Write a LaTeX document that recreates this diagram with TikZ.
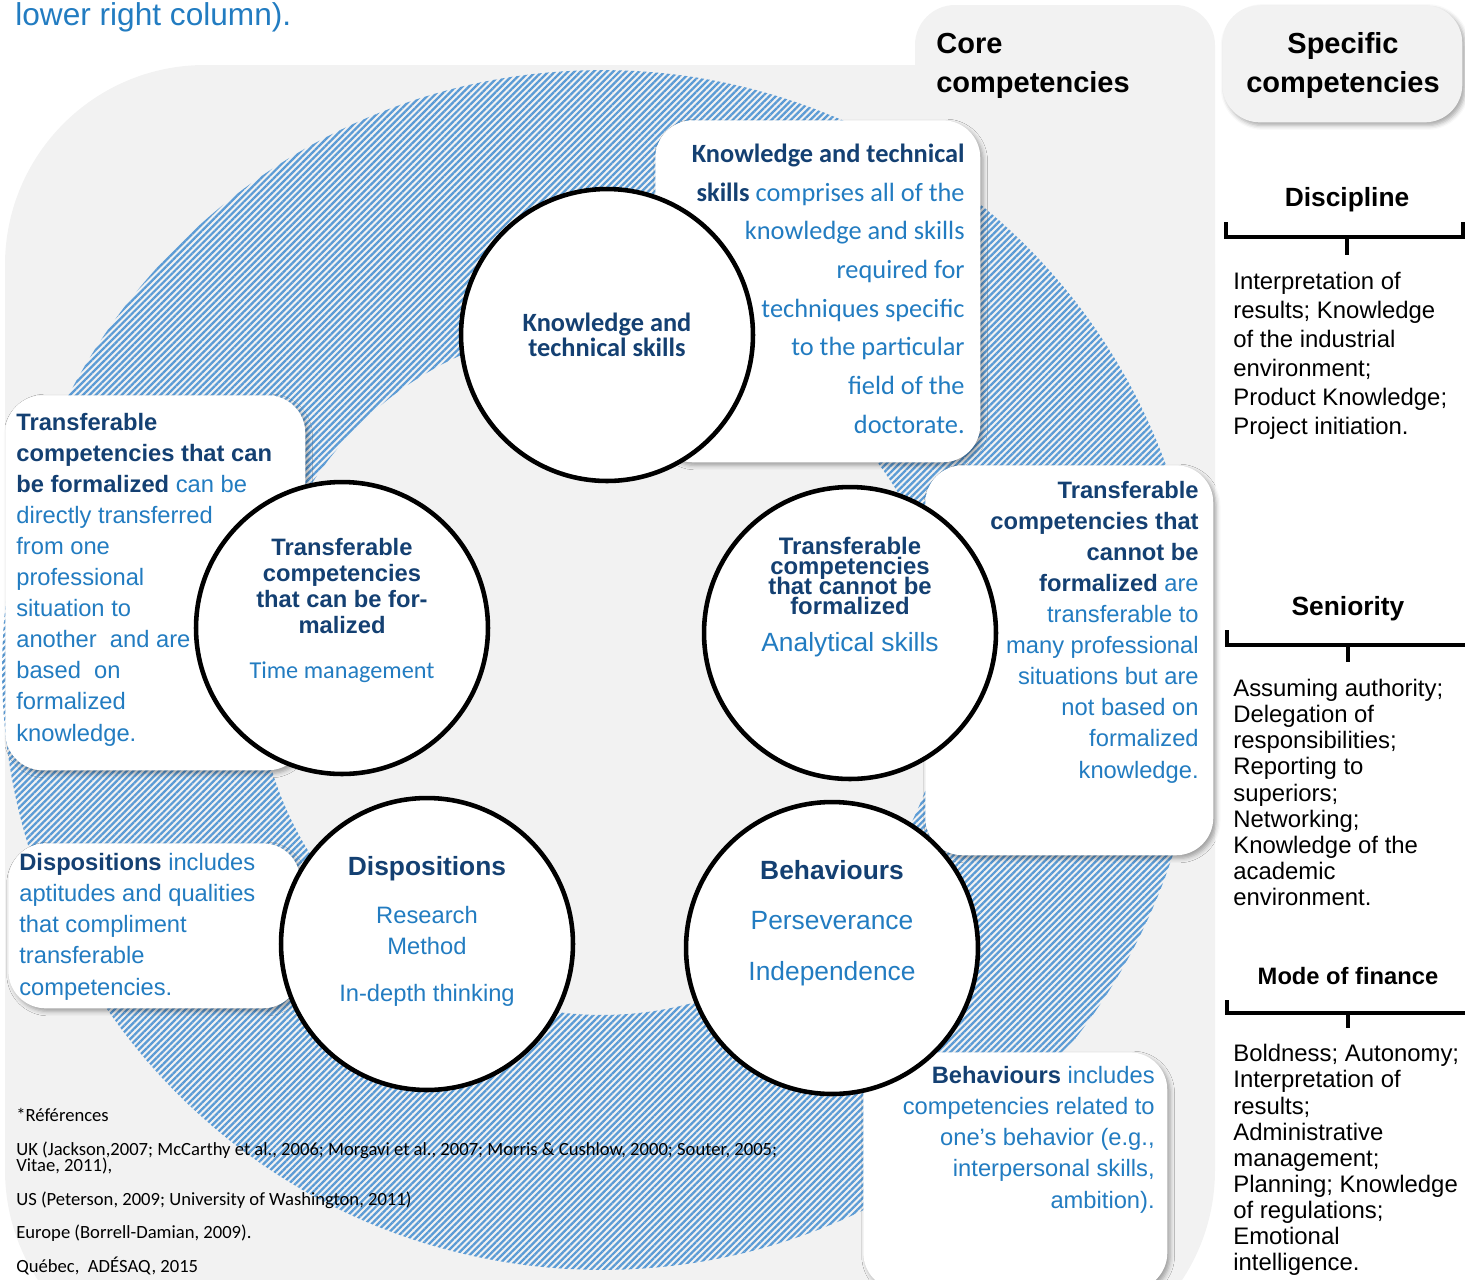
\documentclass[tikz,border=0pt]{standalone}
\usepackage{fontspec}
\setmainfont{Liberation Sans}
\newfontfamily\calib{Carlito}
\usepackage{tikz}
\usetikzlibrary{positioning,calc,patterns.meta,shadows.blur}
\definecolor{Panel}{RGB}{242,242,242}
\definecolor{NavyT}{RGB}{20,64,114}
\definecolor{TxtBlue}{RGB}{34,124,193}
\definecolor{Hatch}{RGB}{91,155,213}
\newcommand{\kw}[1]{{\bfseries\color{NavyT}#1}}
\newcommand{\fsz}[2]{\fontsize{#1}{#2}\selectfont\lineskiplimit=-20pt}
\tikzset{
  comp/.style={circle,draw=black,line width=2.6pt,fill=white,
               minimum size=5.84cm,inner sep=0pt},
  card/.style={rounded corners=0.75cm,fill=white,inner sep=0pt,anchor=north west,
               blur shadow={shadow xshift=1.6pt,shadow yshift=-1.8pt,
                            shadow blur radius=2.5pt,shadow opacity=35}},
  ring/.style={pattern={Lines[angle=45,distance=2.6pt,line width=1.3pt]},
               pattern color=Hatch,even odd rule},
  note/.style={inner sep=0pt,text=TxtBlue,font=\fsz{13.5}{17.7}},
  ttl/.style={inner sep=0pt,text=NavyT,align=center,anchor=base,
              font=\bfseries\fsz{13.5}{14.8}},
  ex/.style={inner sep=0pt,text=TxtBlue,align=center,anchor=base,font=\fsz{15}{18}},
  colhead/.style={inner sep=0pt,anchor=base,font=\bfseries\fsz{15}{18}},
  coltxt/.style={inner sep=0pt,align=left,anchor=base west,font=\fsz{13.6}{14.8}},
  brace/.style={line width=2.3pt},
}

\begin{document}
\begin{tikzpicture}[x=0.02cm,y=-0.02cm]
  \useasboundingbox (0,0) rectangle (1465,1279);
  % grey panel with its tab, hatched ring
  \fill[Panel,rounded corners=4cm] (5,65) rectangle (1215,1370);
  \fill[Panel,rounded corners=0.8cm] (915,5) rectangle (1215,400);
  \fill[ring] (602,670) circle (12cm) (602,670) circle (6.9cm);

  \node[anchor=base west,inner sep=0pt,text=TxtBlue,font=\fsz{18}{22}] (cap) at (15,25) {lower right column).};

  % cards
  \node[card,minimum width=6.5cm,minimum height=6.84cm] (kts-box) at (655,120) {};
  \node[card,minimum width=6cm,minimum height=7.5cm] (tcf-box) at (5,395) {};
  \node[card,minimum width=5.76cm,minimum height=7.8cm] (tcn-box) at (925,465) {};
  \node[card,minimum width=5.84cm,minimum height=3.3cm] (disp-box) at (8,843) {};
  \node[card,minimum width=6.08cm,minimum height=4.76cm] (beh-box) at (863,1052) {};
  \node[card,fill=Panel,minimum width=4.8cm,minimum height=2.34cm] (spec-box) at (1222,5) {};

  % competency circles
  \node[comp] (kts) at (607,335) {};
  \node[comp] (tcf) at (342,628) {};
  \node[comp] (tcn) at (850,633) {};
  \node[comp] (disp) at (427,944) {};
  \node[comp] (beh) at (832,948) {};

  \node[ttl,font=\calib\bfseries\fsz{15}{14.2}] (kts-t) at (607,356) {Knowledge and\\technical skills};
  \node[ttl] (tcf-t) at (342,633) {Transferable\\competencies\\that can be for-\\malized};
  \node[ex,font=\calib\fsz{13.8}{16}] (tcf-e) at (342,678) {Time management};
  \node[ttl,font=\bfseries\fsz{13.6}{11.2}] (tcn-t) at (850,614) {Transferable\\competencies\\that cannot be\\formalized};
  \node[ex] (tcn-e) at (850,651) {Analytical skills};
  \node[ttl,font=\bfseries\fsz{15}{18}] (disp-t) at (427,875) {Dispositions};
  \node[ex,font=\fsz{13.5}{17.6}] (disp-e) at (427,954) {Research\\Method};
  \node[ex,font=\fsz{13.5}{17.6}] (disp-e2) at (427,1001) {In-depth thinking};
  \node[ttl,font=\bfseries\fsz{15}{18}] (beh-t) at (832,879) {Behaviours};
  \node[ex,font=\fsz{15}{28.5}] (beh-e) at (832,980) {Perseverance\\Independence};

  % card texts
  \node[note,font=\calib\fsz{15}{22},align=right,anchor=base east] (kts-note) at (965,433)
    {\kw{Knowledge and technical}\\ \kw{skills} comprises all of the\\knowledge and skills\\required for\\techniques specific\\to the particular\\field of the\\doctorate.};
  \node[note,align=left,anchor=base west] (tcf-note) at (16,741)
    {\kw{Transferable}\\ \kw{competencies that can}\\ \kw{be formalized} can be\\directly transferred\\from one\\professional\\situation to\\another~ and are\\based~ on\\formalized\\knowledge.};
  \node[note,align=right,anchor=base east] (tcn-note) at (1199,778)
    {\kw{Transferable}\\ \kw{competencies that}\\ \kw{cannot be}\\ \kw{formalized} are\\transferable to\\many professional\\situations but are\\not based on\\formalized\\knowledge.};
  \node[note,align=left,anchor=base west] (disp-note) at (19,995)
    {\kw{Dispositions} includes\\aptitudes and qualities\\that compliment\\transferable\\competencies.};
  \node[note,align=right,anchor=base east] (beh-note) at (1155,1208)
    {\kw{Behaviours} includes\\competencies related to\\one’s behavior (e.g.,\\interpersonal skills,\\ambition).};

  % headings
  \node[anchor=base west,align=left,inner sep=0pt,font=\bfseries\fsz{16.5}{22.2}] (core) at (936,92) {Core\\competencies};
  \node[anchor=base,align=center,inner sep=0pt,font=\bfseries\fsz{16.5}{22.2}] (spec) at (1343,92) {Specific\\competencies};

  % specific competencies column
  \node[colhead] (disc-h) at (1347,206) {Discipline};
  \draw[brace] (1226,222) |- (1463,237) -- (1463,222);
  \draw[brace] (1347,237) -- (1347,255);
  \node[coltxt,font=\fsz{13.6}{16.5}] (disc-t) at (1233,434)
    {Interpretation of\\results; Knowledge\\of the industrial\\environment;\\Product Knowledge;\\Project initiation.};

  \node[colhead] (sen-h) at (1348,615) {Seniority};
  \draw[brace] (1227,630) |- (1475,645);
  \draw[brace] (1348,645) -- (1348,662);
  \node[coltxt] (sen-t) at (1233,905)
    {Assuming authority;\\Delegation of\\responsibilities;\\Reporting to\\superiors;\\Networking;\\Knowledge of the\\academic\\environment.};

  \node[colhead,font=\bfseries\fsz{13.5}{16}] (fin-h) at (1348,984) {Mode of finance};
  \draw[brace] (1227,1000) |- (1475,1013);
  \draw[brace] (1348,1013) -- (1348,1028);
  \node[coltxt] (fin-t) at (1233,1270)
    {Boldness; Autonomy;\\Interpretation of\\results;\\Administrative\\management;\\Planning; Knowledge\\of regulations;\\Emotional\\intelligence.};

  % references
  \node[anchor=base west,align=left,inner sep=0pt,font=\calib\fsz{10.6}{9.5}] (refs) at (16,1272)
    {*Références\\[9.5pt]UK (Jackson,2007; McCarthy et al., 2006; Morgavi et al., 2007; Morris \& Cushlow, 2000; Souter, 2005;\\Vitae, 2011),\\[9.5pt]US (Peterson, 2009; University of Washington, 2011)\\[9.5pt]Europe (Borrell-Damian, 2009).\\[9.5pt]Québec,~ ADÉSAQ, 2015};
\end{tikzpicture}
\end{document}
